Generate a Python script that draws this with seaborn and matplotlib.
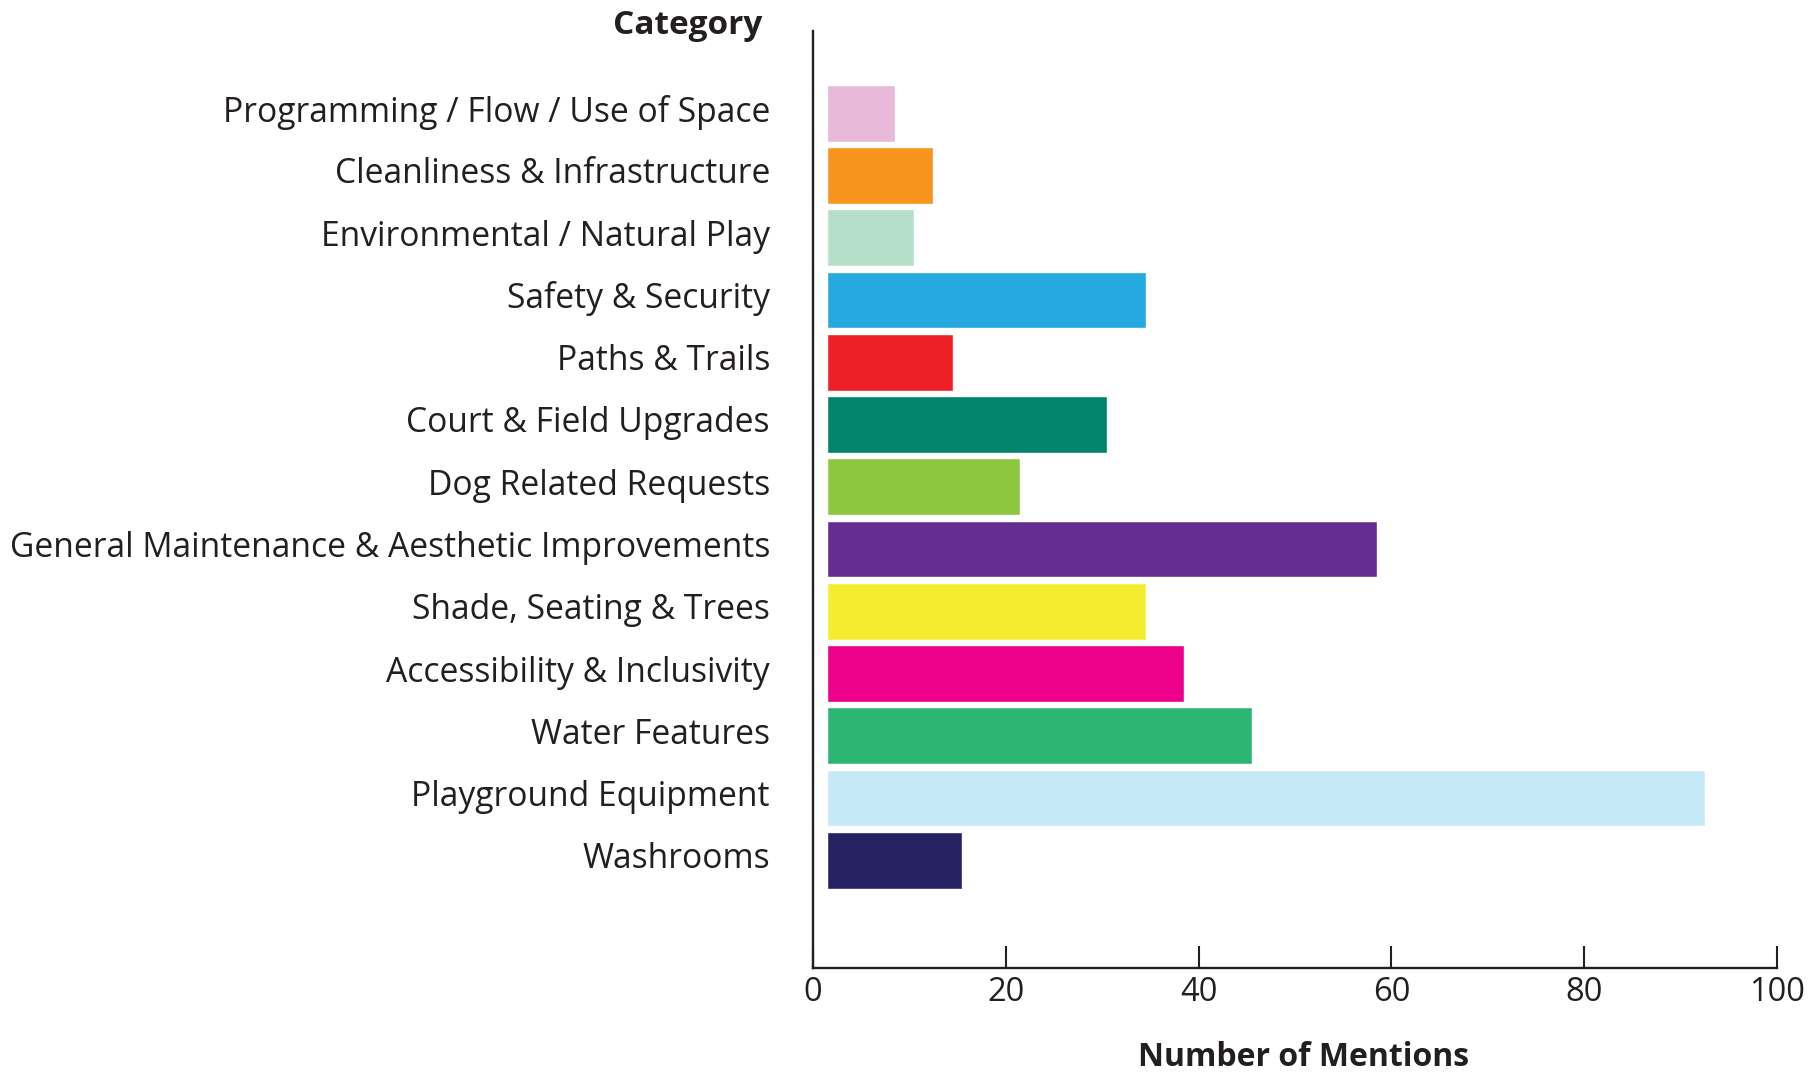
import matplotlib
matplotlib.use("Agg")
import matplotlib.pyplot as plt
import matplotlib.transforms as mtransforms
import seaborn as sns
import pandas as pd

categories = [
    "Programming / Flow / Use of Space",
    "Cleanliness & Infrastructure",
    "Environmental / Natural Play",
    "Safety & Security",
    "Paths & Trails",
    "Court & Field Upgrades",
    "Dog Related Requests",
    "General Maintenance & Aesthetic Improvements",
    "Shade, Seating & Trees",
    "Accessibility & Inclusivity",
    "Water Features",
    "Playground Equipment",
    "Washrooms",
]
mentions = [7, 11, 9, 33, 13, 29, 20, 57, 33, 37, 44, 91, 14]
colors = [
    "#E8B9D8", "#F7941D", "#B5DFC9", "#25A9E0", "#EE1F26", "#00846C",
    "#8DC63F", "#662D91", "#F4EC2F", "#EC008C", "#2BB673", "#C6E9F8",
    "#262262",
]
x_ticks = [0, 20, 40, 60, 80, 100]

TEXT = "#231F20"
FONT = ["Open Sans", "DejaVu Sans"]
sns.set_theme(style="white")
plt.rcParams["font.family"] = FONT

df = pd.DataFrame({"Category": categories, "Mentions": mentions})

fig = plt.figure(figsize=(18.15, 10.73), dpi=100)
ax = fig.add_axes([813 / 1815, 1 - 968 / 1073, 964 / 1815, 937 / 1073])

sns.barplot(data=df, y="Category", x="Mentions", hue="Category",
            palette=colors, legend=False, width=0.91, saturation=1,
            orient="h", ax=ax)

GAP = 1.5  # visual gap between the axis line and bar starts (tick units)
ax.set_xlim(-GAP, 100 - GAP)
ax.set_ylim(13.73, -1.32)

for s in ["top", "right"]:
    ax.spines[s].set_visible(False)
for s in ["left", "bottom"]:
    ax.spines[s].set_color(TEXT)
    ax.spines[s].set_linewidth(1.7)

ax.set_xticks([])
ax.tick_params(axis="y", length=0, pad=31, labelsize=24.2, labelcolor=TEXT)
shift = mtransforms.ScaledTranslation(0, 5 / 100, fig.dpi_scale_trans)
for lbl in ax.get_yticklabels():
    lbl.set_transform(lbl.get_transform() + shift)
ax.set_ylabel("")
ax.set_xlabel("")

sec = ax.secondary_xaxis("bottom", functions=(lambda x: x + GAP, lambda x: x - GAP))
sec.set_xticks(x_ticks)
sec.set_xticklabels([str(t) for t in x_ticks])
sec.tick_params(axis="x", direction="in", length=16, width=1.5, color=TEXT,
                pad=6, labelsize=23.5, labelcolor=TEXT)
sec.spines["bottom"].set_visible(False)

fig.text(1304 / 1815, 1 - 1058 / 1073, "Number of Mentions", ha="center",
         va="center", fontsize=23, fontweight="bold", color=TEXT, family=FONT)
fig.text(762 / 1815, 1 - 25 / 1073, "Category", ha="right", va="center",
         fontsize=24, fontweight="bold", color=TEXT, family=FONT)

fig.savefig("out.png", dpi=100)
